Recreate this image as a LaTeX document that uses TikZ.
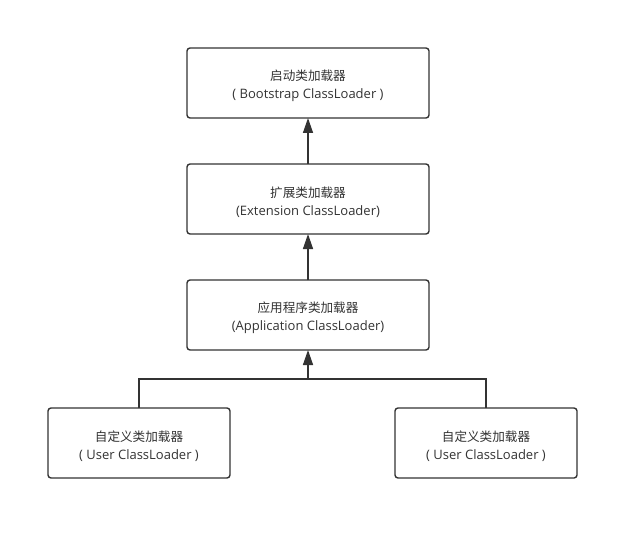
\documentclass[tikz,border=0pt]{standalone}
\usepackage{fontspec}
\setmainfont{Open Sans}
\newfontfamily\cjk{Noto Sans CJK SC}
\newcommand\cnline[1]{{\cjk\fontsize{12.6}{18}\selectfont\rule{0pt}{16.5pt}#1}}
\usetikzlibrary{positioning,arrows.meta}
\definecolor{linegray}{HTML}{333333}
\begin{document}
\begin{tikzpicture}[x=1pt,y=1pt,loader/.style={rectangle, draw=linegray, fill=white, line width=1.4pt, outer sep=0pt, rounded corners=3pt, minimum width=242pt, minimum height=70pt, align=center, font=\fontsize{13}{18}\selectfont, text=linegray},userbox/.style={loader, minimum width=182pt},link/.style={draw=linegray, line width=1.4pt},parent/.style={link, -{Triangle[width=10pt,length=15pt]}},]
            \useasboundingbox (0,0) rectangle (639,-540);
            \node[loader] (boot) at (308,-83) {\cnline{启动类加载器}\\( Bootstrap ClassLoader )};
            \node[loader, below=46pt of boot] (ext) {\cnline{扩展类加载器}\\(Extension ClassLoader)};
            \node[loader, below=46pt of ext] (app) {\cnline{应用程序类加载器}\\(Application ClassLoader)};
            \node[userbox, below=58pt of app, xshift=-169pt] (user1) {\cnline{自定义类加载器}\\( User ClassLoader )};
            \node[userbox, below=58pt of app, xshift=178pt] (user2) {\cnline{自定义类加载器}\\( User ClassLoader )};
            \coordinate[below=29pt of app.south] (bus);
            \draw[parent] (ext) -- (boot);
            \draw[parent] (app) -- (ext);
            \draw[link] (user1) |- (bus) -| (user2);
            \draw[parent] (bus) -- (app);
        \end{tikzpicture}
\end{document}
